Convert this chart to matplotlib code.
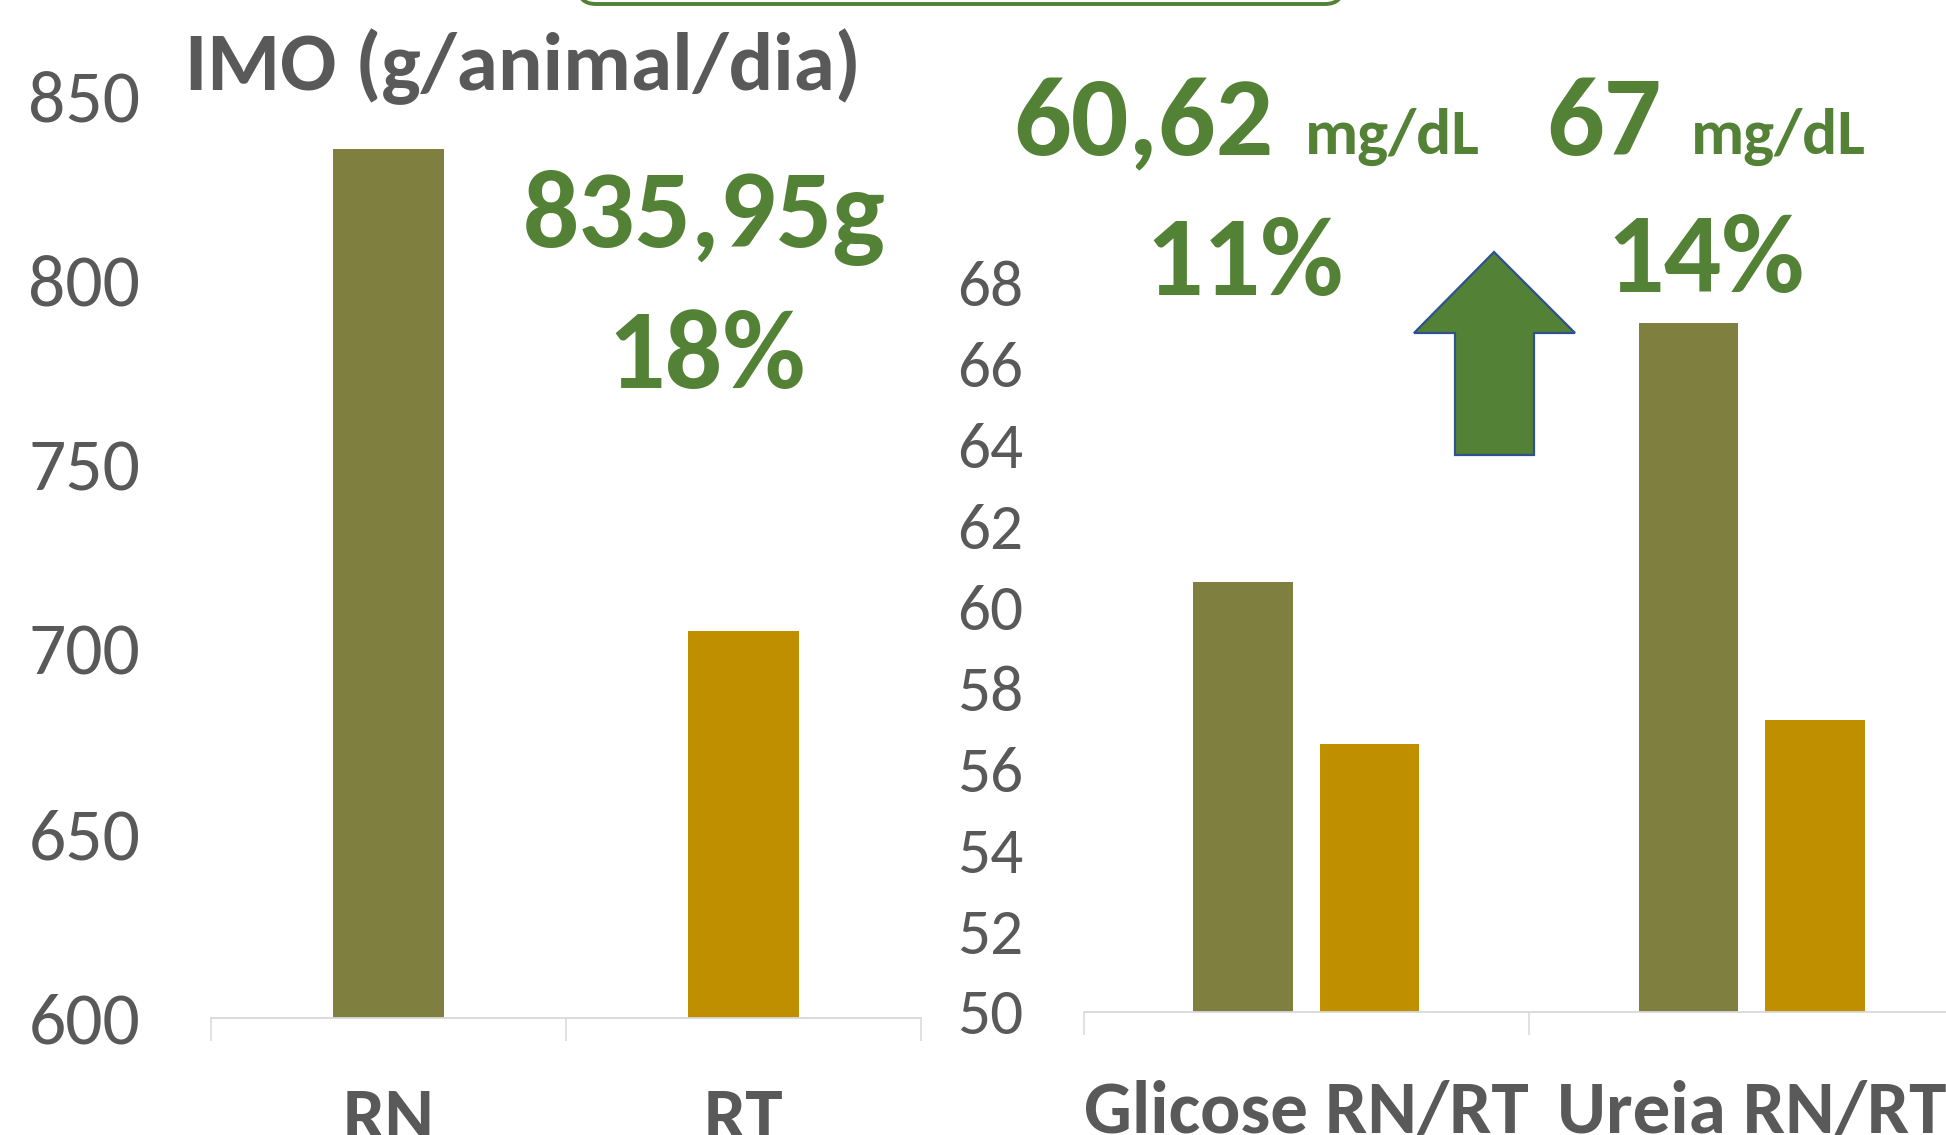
import matplotlib
matplotlib.use("Agg")
import matplotlib.pyplot as plt
from matplotlib import font_manager
from matplotlib.patches import FancyBboxPatch, Polygon

# data
imo_groups = ['RN', 'RT']
imo_values = [835.95, 705.0]

blood_groups = ['Glicose RN/RT', 'Ureia RN/RT']
blood_rn = [60.62, 67.0]
blood_rt = [56.6, 57.2]

W, H = 1946, 1135
GRAY = '#595959'
GREEN = '#538135'
RN_COLOR = '#7F7F40'
RT_COLOR = '#BF8F00'
AXIS_COLOR = '#D9D9D9'

installed = set(f.name for f in font_manager.fontManager.ttflist)
family = 'Carlito' if 'Carlito' in installed else 'Lato'
plt.rcParams['font.family'] = [family, 'DejaVu Sans']

fig = plt.figure(figsize=(W / 100, H / 100), dpi=100)


def fx(x):
    return x / W


def fy(y):
    return 1 - y / H


def style_axes(ax, labels, pad_y, pad_x, ysize):
    for s in ['left', 'right', 'top']:
        ax.spines[s].set_visible(False)
    ax.spines['bottom'].set_color(AXIS_COLOR)
    ax.spines['bottom'].set_linewidth(1.3)
    ax.set_xlim(-0.5, 1.5)
    ax.set_xticks(range(len(labels)))
    ax.set_xticklabels(labels)
    ax.set_xticks([-0.5, 0.5, 1.5], minor=True)
    ax.tick_params(axis='x', which='major', length=0, pad=pad_x,
                   labelsize=54, labelcolor=GRAY)
    ax.tick_params(axis='x', which='minor', length=16.5, width=1.1,
                   color=AXIS_COLOR, direction='out')
    for t in ax.get_xticklabels():
        t.set_fontweight('bold')
    ax.tick_params(axis='y', length=0, pad=pad_y, labelsize=ysize,
                   labelcolor=GRAY)
    ax.set_facecolor('none')


# left chart: IMO
ax1 = fig.add_axes([fx(211), fy(1017.7), fx(921 - 211), (1017.7 - 96.8) / H])
ax1.bar(range(len(imo_groups)), imo_values, width=0.315,
        color=[RN_COLOR, RT_COLOR])
ax1.set_ylim(600, 850)
ax1.set_yticks(range(600, 851, 50))
style_axes(ax1, imo_groups, 51, 50, 53)

# right chart: glicose / ureia
ax2 = fig.add_axes([fx(1083.5), fy(1011.5), fx(891), (1011.5 - 283) / H])
xs = range(len(blood_groups))
ax2.bar([x - 0.142 for x in xs], blood_rn, width=0.223, color=RN_COLOR)
ax2.bar([x + 0.142 for x in xs], blood_rt, width=0.223, color=RT_COLOR)
ax2.set_ylim(50, 68)
ax2.set_yticks(range(50, 69, 2))
style_axes(ax2, blood_groups, 43.5, 49, 47)

# title and callouts
fig.text(fx(523), fy(90.6), 'IMO (g/animal/dia)', ha='center', va='baseline',
         fontsize=60, fontweight='bold', color=GRAY)
fig.text(fx(704), fy(247), '835,95g', ha='center', va='baseline',
         fontsize=80, fontweight='bold', color=GREEN)
fig.text(fx(707), fy(388), '18%', ha='center', va='baseline',
         fontsize=82, fontweight='bold', color=GREEN)
fig.text(fx(1143), fy(155), '60,62', ha='center', va='baseline',
         fontsize=82, fontweight='bold', color=GREEN)
fig.text(fx(1392), fy(154), 'mg/dL', ha='center', va='baseline',
         fontsize=47, fontweight='bold', color=GREEN)
fig.text(fx(1604), fy(155), '67', ha='center', va='baseline',
         fontsize=82, fontweight='bold', color=GREEN)
fig.text(fx(1778), fy(154), 'mg/dL', ha='center', va='baseline',
         fontsize=47, fontweight='bold', color=GREEN)
fig.text(fx(1245), fy(295), '11%', ha='center', va='baseline',
         fontsize=82, fontweight='bold', color=GREEN)
fig.text(fx(1706), fy(292), '14%', ha='center', va='baseline',
         fontsize=82, fontweight='bold', color=GREEN)

# up arrow
arrow_px = [(1494, 252), (1575, 333), (1534, 333), (1534, 455),
            (1455, 455), (1455, 333), (1414, 333)]
arrow = Polygon([(fx(x), fy(y)) for x, y in arrow_px], closed=True,
                facecolor=GREEN, edgecolor='#2F528F', linewidth=1.6,
                transform=fig.transFigure)
fig.patches.append(arrow)

# bottom edge of the box above the chart
box = FancyBboxPatch((5.78, (H - 4) / 100), 7.65, 1.0,
                     boxstyle='round,pad=0,rounding_size=0.18',
                     facecolor='white', edgecolor=GREEN, linewidth=2.8,
                     transform=fig.dpi_scale_trans)
fig.patches.append(box)

fig.savefig('out.png', dpi=100, facecolor='white')
